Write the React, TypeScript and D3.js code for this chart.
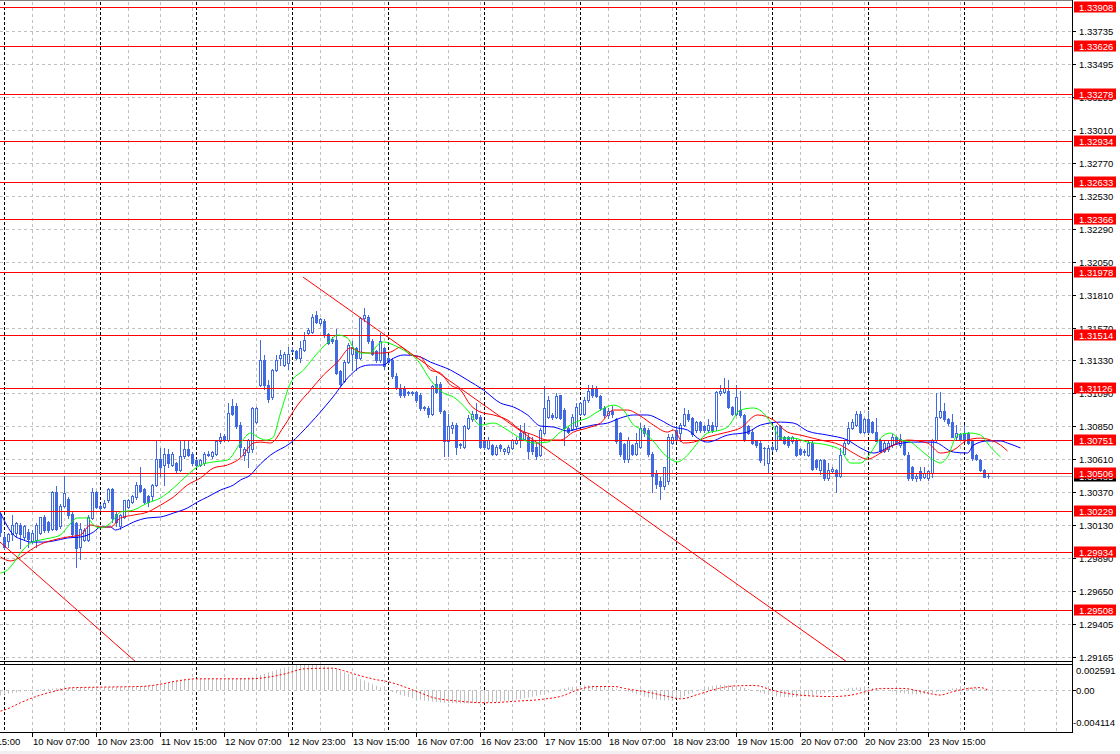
import React from "react";
import * as d3 from "d3";

// ---------- candle data (H1 bars, bar 0 = 9 Nov 23:00) ----------
const open = [
1.3021,1.3004,1.3001,1.3006,1.3007,1.3013,1.3004,1.3008,1.3001,1.3002,
1.3007,1.3019,1.3015,1.3010,1.3037,1.3012,1.3027,1.3032,1.3021,1.3014,
1.2997,1.3002,1.3002,1.3018,1.3037,1.3027,1.3026,1.3031,1.3039,1.3021,
1.3012,1.3019,1.3026,1.3030,1.3033,1.3042,1.3039,1.3034,1.3034,1.3042,
1.3061,1.3057,1.3065,1.3057,1.3058,1.3053,1.3063,1.3068,1.3065,1.3060,
1.3057,1.3058,1.3064,1.3063,1.3065,1.3074,1.3078,1.3075,1.3100,1.3100,
1.3086,1.3064,1.3066,1.3068,1.3088,1.3115,1.3133,1.3115,1.3106,1.3126,
1.3135,1.3130,1.3131,1.3140,1.3140,1.3135,1.3141,1.3153,1.3154,1.3166,
1.3160,1.3162,1.3152,1.3149,1.3148,1.3125,1.3118,1.3132,1.3138,1.3142,
1.3135,1.3164,1.3165,1.3147,1.3140,1.3133,1.3142,1.3135,1.3133,1.3122,
1.3113,1.3112,1.3110,1.3109,1.3110,1.3108,1.3099,1.3098,1.3094,1.3116,
1.3116,1.3096,1.3074,1.3084,1.3086,1.3071,1.3070,1.3084,1.3090,1.3094,
1.3092,1.3075,1.3069,1.3071,1.3065,1.3071,1.3067,1.3066,1.3069,1.3073,
1.3080,1.3076,1.3077,1.3075,1.3070,1.3064,1.3080,1.3092,1.3093,1.3092,
1.3108,1.3097,1.3084,1.3083,1.3085,1.3094,1.3094,1.3104,1.3113,1.3113,
1.3107,1.3098,1.3093,1.3096,1.3090,1.3080,1.3072,1.3061,1.3071,1.3065,
1.3070,1.3084,1.3082,1.3065,1.3051,1.3045,1.3041,1.3045,1.3073,1.3082,
1.3080,1.3086,1.3094,1.3091,1.3082,1.3088,1.3085,1.3082,1.3086,1.3085,
1.3109,1.3110,1.3111,1.3099,1.3094,1.3097,1.3093,1.3085,1.3081,1.3074,
1.3073,1.3069,1.3058,1.3070,1.3068,1.3085,1.3077,1.3077,1.3074,1.3075,
1.3068,1.3066,1.3064,1.3073,1.3060,1.3053,1.3060,1.3047,1.3052,1.3053,
1.3049,1.3065,1.3073,1.3084,1.3086,1.3094,1.3081,1.3090,1.3088,1.3081,
1.3075,1.3067,1.3068,1.3071,1.3077,1.3071,1.3074,1.3064,1.3055,1.3047,
1.3052,1.3048,1.3047,1.3051,1.3075,1.3092,1.3096,1.3090,1.3088,1.3077,
1.3079,1.3080,1.3080,1.3074,1.3064,1.3060,1.3053,1.3049];
const high = [
1.3022,1.3007,1.3007,1.3020,1.3015,1.3014,1.3013,1.3010,1.3009,1.3014,
1.3019,1.3020,1.3016,1.3038,1.3041,1.3028,1.3049,1.3033,1.3023,1.3015,
1.3014,1.3011,1.3020,1.3040,1.3038,1.3028,1.3031,1.3040,1.3040,1.3022,
1.3021,1.3031,1.3032,1.3035,1.3044,1.3055,1.3040,1.3035,1.3043,1.3074,
1.3069,1.3069,1.3068,1.3066,1.3059,1.3074,1.3074,1.3074,1.3066,1.3061,
1.3061,1.3066,1.3067,1.3067,1.3075,1.3080,1.3079,1.3102,1.3105,1.3102,
1.3088,1.3070,1.3076,1.3099,1.3099,1.3148,1.3137,1.3119,1.3127,1.3137,
1.3141,1.3139,1.3143,1.3143,1.3141,1.3147,1.3154,1.3157,1.3167,1.3169,
1.3164,1.3163,1.3153,1.3150,1.3156,1.3126,1.3133,1.3146,1.3147,1.3143,
1.3165,1.3171,1.3166,1.3149,1.3141,1.3153,1.3143,1.3137,1.3135,1.3124,
1.3116,1.3114,1.3111,1.3111,1.3111,1.3109,1.3100,1.3100,1.3115,1.3122,
1.3117,1.3097,1.3094,1.3088,1.3087,1.3073,1.3086,1.3093,1.3096,1.3102,
1.3093,1.3076,1.3077,1.3072,1.3071,1.3072,1.3069,1.3071,1.3076,1.3077,
1.3086,1.3087,1.3079,1.3077,1.3073,1.3084,1.3114,1.3107,1.3095,1.3109,
1.3108,1.3098,1.3085,1.3094,1.3102,1.3103,1.3106,1.3115,1.3115,1.3114,
1.3108,1.3100,1.3098,1.3100,1.3091,1.3081,1.3073,1.3077,1.3072,1.3080,
1.3087,1.3086,1.3084,1.3066,1.3053,1.3048,1.3055,1.3079,1.3079,1.3085,
1.3087,1.3098,1.3097,1.3092,1.3089,1.3089,1.3086,1.3090,1.3088,1.3111,
1.3115,1.3120,1.3119,1.3100,1.3115,1.3111,1.3094,1.3086,1.3082,1.3075,
1.3074,1.3070,1.3071,1.3072,1.3086,1.3086,1.3078,1.3078,1.3078,1.3076,
1.3069,1.3068,1.3074,1.3074,1.3061,1.3061,1.3061,1.3058,1.3055,1.3054,
1.3069,1.3074,1.3088,1.3090,1.3096,1.3096,1.3091,1.3096,1.3089,1.3091,
1.3076,1.3074,1.3075,1.3079,1.3078,1.3079,1.3075,1.3066,1.3056,1.3050,
1.3055,1.3055,1.3053,1.3076,1.3109,1.3110,1.3102,1.3091,1.3094,1.3086,
1.3080,1.3086,1.3081,1.3075,1.3065,1.3061,1.3054,1.3050];
const low = [
1.3005,1.2995,1.2997,1.3002,1.3005,1.2996,1.3002,1.2997,1.3000,1.2997,
1.3006,1.3008,1.3008,1.3009,1.3009,1.3011,1.3026,1.3018,1.3005,1.2982,
1.2988,1.3001,1.3001,1.3017,1.3025,1.3024,1.3025,1.3030,1.3015,1.3012,
1.3010,1.3018,1.3025,1.3029,1.3032,1.3037,1.3029,1.3027,1.3031,1.3041,
1.3049,1.3042,1.3055,1.3056,1.3051,1.3052,1.3062,1.3063,1.3057,1.3055,
1.3056,1.3057,1.3063,1.3062,1.3064,1.3073,1.3074,1.3074,1.3093,1.3084,
1.3063,1.3060,1.3055,1.3066,1.3087,1.3114,1.3112,1.3103,1.3105,1.3125,
1.3130,1.3129,1.3127,1.3139,1.3134,1.3132,1.3140,1.3152,1.3153,1.3160,
1.3159,1.3150,1.3145,1.3146,1.3123,1.3114,1.3117,1.3131,1.3126,1.3126,
1.3134,1.3162,1.3146,1.3137,1.3132,1.3132,1.3127,1.3131,1.3120,1.3112,
1.3106,1.3106,1.3108,1.3108,1.3103,1.3097,1.3097,1.3092,1.3093,1.3109,
1.3095,1.3063,1.3063,1.3080,1.3065,1.3069,1.3069,1.3083,1.3089,1.3090,
1.3069,1.3068,1.3068,1.3064,1.3064,1.3067,1.3065,1.3065,1.3068,1.3072,
1.3070,1.3075,1.3062,1.3065,1.3061,1.3063,1.3079,1.3091,1.3090,1.3091,
1.3090,1.3071,1.3080,1.3082,1.3084,1.3093,1.3093,1.3103,1.3106,1.3106,
1.3097,1.3092,1.3091,1.3092,1.3073,1.3063,1.3059,1.3059,1.3064,1.3064,
1.3069,1.3078,1.3063,1.3037,1.3040,1.3032,1.3039,1.3043,1.3072,1.3074,
1.3074,1.3085,1.3089,1.3078,1.3081,1.3081,1.3081,1.3081,1.3081,1.3082,
1.3108,1.3109,1.3098,1.3093,1.3093,1.3092,1.3074,1.3079,1.3072,1.3070,
1.3059,1.3057,1.3051,1.3067,1.3067,1.3075,1.3072,1.3070,1.3073,1.3063,
1.3064,1.3064,1.3063,1.3053,1.3054,1.3050,1.3046,1.3046,1.3051,1.3037,
1.3048,1.3064,1.3072,1.3083,1.3085,1.3080,1.3080,1.3080,1.3080,1.3074,
1.3066,1.3066,1.3067,1.3070,1.3072,1.3070,1.3064,1.3046,1.3046,1.3045,
1.3046,1.3047,1.3046,1.3048,1.3074,1.3091,1.3089,1.3086,1.3077,1.3076,
1.3075,1.3075,1.3072,1.3060,1.3060,1.3052,1.3048,1.3047];
const close = [
1.3008,1.2997,1.3006,1.3013,1.3014,1.3006,1.3012,1.3003,1.3007,1.3013,
1.3019,1.3009,1.3009,1.3037,1.3010,1.3027,1.3036,1.3020,1.3006,1.2996,
1.3010,1.3009,1.3019,1.3037,1.3026,1.3025,1.3029,1.3039,1.3018,1.3015,
1.3020,1.3031,1.3031,1.3034,1.3042,1.3038,1.3030,1.3030,1.3042,1.3061,
1.3055,1.3065,1.3058,1.3065,1.3053,1.3063,1.3068,1.3064,1.3058,1.3057,
1.3060,1.3065,1.3065,1.3066,1.3074,1.3077,1.3075,1.3095,1.3094,1.3085,
1.3070,1.3068,1.3075,1.3098,1.3098,1.3133,1.3115,1.3105,1.3126,1.3133,
1.3137,1.3138,1.3138,1.3141,1.3135,1.3142,1.3148,1.3155,1.3165,1.3161,
1.3163,1.3152,1.3146,1.3147,1.3124,1.3116,1.3132,1.3144,1.3143,1.3135,
1.3164,1.3166,1.3147,1.3138,1.3133,1.3147,1.3129,1.3132,1.3122,1.3113,
1.3108,1.3108,1.3109,1.3110,1.3104,1.3098,1.3098,1.3094,1.3114,1.3110,
1.3096,1.3074,1.3085,1.3086,1.3070,1.3072,1.3085,1.3091,1.3094,1.3091,
1.3070,1.3070,1.3075,1.3065,1.3070,1.3069,1.3068,1.3070,1.3075,1.3075,
1.3075,1.3081,1.3067,1.3067,1.3063,1.3082,1.3098,1.3104,1.3092,1.3107,
1.3091,1.3084,1.3081,1.3092,1.3099,1.3102,1.3104,1.3111,1.3108,1.3107,
1.3098,1.3093,1.3096,1.3094,1.3074,1.3065,1.3061,1.3075,1.3065,1.3073,
1.3084,1.3080,1.3065,1.3049,1.3043,1.3041,1.3055,1.3077,1.3077,1.3076,
1.3086,1.3094,1.3090,1.3079,1.3088,1.3082,1.3082,1.3086,1.3082,1.3110,
1.3111,1.3113,1.3099,1.3094,1.3106,1.3093,1.3075,1.3080,1.3073,1.3071,
1.3060,1.3069,1.3069,1.3068,1.3085,1.3076,1.3073,1.3071,1.3077,1.3064,
1.3065,1.3067,1.3073,1.3054,1.3055,1.3060,1.3047,1.3053,1.3054,1.3049,
1.3064,1.3073,1.3084,1.3088,1.3094,1.3081,1.3090,1.3081,1.3081,1.3074,
1.3067,1.3073,1.3073,1.3077,1.3073,1.3076,1.3065,1.3047,1.3047,1.3049,
1.3047,1.3051,1.3052,1.3075,1.3092,1.3096,1.3090,1.3087,1.3077,1.3080,
1.3076,1.3076,1.3073,1.3062,1.3061,1.3053,1.3048,1.30485];

// ---------- Alligator (bar, price) ----------
const jaw = [[0,1.30216],[3.25,1.30056],[5.75,1.30019],[7.5,1.30004],[10.75,1.30004],[13.25,1.30012],[16.75,1.30034],[20,1.30041],[23.25,1.30077],[25,1.30114],[27.5,1.30114],[28.75,1.30092],[30.75,1.30114],[33.25,1.3015],[36.75,1.3018],[40,1.30187],[43.25,1.30216],[46.75,1.30253],[49.25,1.30297],[51.75,1.30333],[55,1.30384],[58.25,1.30421],[60,1.30457],[62.5,1.30494],[64.25,1.30552],[67.5,1.30639],[72.5,1.30727],[77.5,1.30873],[82.5,1.31041],[87.5,1.31224],[90,1.31282],[92.5,1.31297],[95.75,1.31297],[97.5,1.31333],[100.75,1.3137],[104.25,1.31362],[107.5,1.31318],[112.5,1.3126],[116.75,1.31187],[120.75,1.31114],[125,1.31019],[128.25,1.3099],[131.75,1.30932],[135,1.30851],[138.25,1.30844],[141.75,1.30815],[145,1.30837],[148.25,1.30859],[151.75,1.30873],[155,1.3091],[158.25,1.30932],[161.75,1.30932],[165,1.30895],[168.25,1.30844],[171.75,1.30822],[175,1.30749],[176.75,1.30734],[181.75,1.30785],[186.75,1.30807],[190,1.30858],[195,1.3088],[198.25,1.30873],[201.75,1.30815],[206.75,1.30785],[211.75,1.30749],[215,1.30691],[218.25,1.30654],[223.25,1.30712],[228.25,1.30734],[233.25,1.30734],[238.25,1.30661],[241.75,1.30654],[243.25,1.30712],[246.75,1.30742],[250,1.30742],[251.75,1.30727],[255,1.30691]];
const teeth = [[0,1.29895],[2.5,1.29866],[5,1.29895],[7.5,1.29946],[10.75,1.29997],[13.25,1.30019],[16.75,1.30041],[20,1.30056],[22.5,1.30129],[25,1.30114],[27.5,1.30114],[30,1.3018],[33.25,1.30201],[36.75,1.30223],[40,1.30274],[43.25,1.30333],[46.75,1.30421],[50,1.30472],[53.25,1.30545],[56.75,1.30567],[60,1.30618],[63.25,1.30727],[65,1.30734],[67.5,1.30727],[70.75,1.30844],[74.25,1.31004],[77.5,1.31114],[80.75,1.31224],[84.25,1.31318],[87.5,1.31421],[90,1.31391],[92.5,1.31384],[95,1.31384],[97.5,1.31391],[100,1.31428],[102.5,1.3137],[105,1.31355],[107.5,1.3126],[110,1.31238],[112.5,1.3115],[115,1.31114],[117.5,1.31004],[120,1.30953],[123.25,1.30932],[126.75,1.30895],[130,1.30822],[133.25,1.30785],[136.75,1.30749],[140,1.30749],[143.25,1.30807],[146.75,1.30837],[150,1.30873],[153.25,1.30968],[156.75,1.30968],[160,1.30924],[163.25,1.30858],[166.75,1.30807],[168.25,1.30822],[170.75,1.30727],[173.25,1.30734],[176.75,1.30771],[181.75,1.30807],[185,1.30837],[189.25,1.30932],[193.25,1.30895],[196.75,1.30807],[200,1.30785],[205,1.30749],[210,1.30712],[213.25,1.30654],[216.75,1.3061],[220,1.30654],[223.25,1.30712],[226.75,1.30749],[231.75,1.30727],[235,1.30654],[238.25,1.30676],[241.75,1.30749],[245,1.30763],[247.5,1.30749],[250,1.30712],[251.75,1.30669]];
const lips = [[0,1.29778],[1.75,1.298],[3.25,1.29851],[5,1.29924],[7.5,1.29997],[10,1.30019],[12.5,1.30034],[15,1.30056],[16.75,1.30114],[19.25,1.3018],[21.75,1.3018],[23.25,1.30129],[25,1.30107],[27.5,1.30143],[30,1.30223],[33.25,1.30238],[36.75,1.30289],[40,1.30326],[43.25,1.30399],[46.75,1.30494],[50,1.30567],[53.25,1.30589],[56.75,1.30603],[60,1.30727],[62.5,1.308],[64.25,1.30771],[66.25,1.30749],[68,1.30763],[70,1.30946],[72.5,1.31165],[75.75,1.3126],[79.25,1.31384],[82.5,1.31479],[84.25,1.31516],[86.75,1.31494],[88.25,1.31421],[90,1.31384],[92.5,1.31384],[94.25,1.31443],[95.75,1.31465],[98.25,1.31443],[100.75,1.31406],[104.25,1.31333],[107.5,1.31187],[110.75,1.31092],[113.25,1.31063],[116.75,1.30968],[120,1.30858],[123.25,1.30873],[126.75,1.30822],[130,1.30763],[133.25,1.30727],[136.75,1.30734],[140,1.30807],[143.25,1.30873],[146.75,1.3091],[150,1.30968],[153.25,1.31004],[155.75,1.30968],[158.25,1.30858],[160,1.30829],[162.5,1.30763],[166.75,1.30625],[169.25,1.30589],[171.75,1.30639],[174.25,1.30727],[176.75,1.308],[180,1.30822],[181.75,1.30844],[185,1.30968],[188.25,1.30983],[190.75,1.30946],[193.25,1.30844],[195,1.30763],[198.25,1.30763],[201.75,1.30734],[206.75,1.30712],[210,1.30676],[212.5,1.30581],[215,1.30581],[217.5,1.30654],[220,1.30763],[222.5,1.308],[225,1.30749],[227.5,1.30734],[230,1.30676],[233.25,1.30603],[235,1.30581],[236.75,1.30625],[239.25,1.30785],[242.5,1.308],[245,1.30785],[247.5,1.30698],[250,1.30625]];

// ---------- trend lines (bar, price) ----------
const trendA = [[75.75, 1.31939], [145, 1.30508]];
const trendB = [[0, 1.30004], [10.75, 1.29727]];

// ---------- horizontal levels, ticks ----------
const levels = [1.33908,1.33626,1.33278,1.32934,1.32633,1.32366,1.31978,1.31514,1.31126,1.30751,1.30506,1.30229,1.29934,1.29508];
const priceTicks = [1.33735,1.33495,1.33255,1.3301,1.3277,1.3253,1.3229,1.3205,1.3181,1.3157,1.3133,1.3109,1.3085,1.3061,1.3037,1.3013,1.2989,1.2965,1.29405,1.29165];
const priceTickLabels = ["1.33735","1.33495","1.33255","1.33010","1.32770","1.32530","1.32290","1.32050","1.31810","1.31570","1.31330","1.31090","1.30850","1.30610","1.30370","1.30130","1.29890","1.29650","1.29405","1.29165"];
const bidPrice = 1.30485;

const timeLabelBars = [-8,8,24,40,56,72,88,104,120,136,152,168,184,200,216,232];
const timeLabels = ["9 Nov 15:00","10 Nov 07:00","10 Nov 23:00","11 Nov 15:00","12 Nov 07:00","12 Nov 23:00","13 Nov 15:00","16 Nov 07:00","16 Nov 23:00","17 Nov 15:00","18 Nov 07:00","18 Nov 23:00","19 Nov 15:00","20 Nov 07:00","20 Nov 23:00","23 Nov 15:00"];
const daySeparatorBars = [1,25,49,73,97,121,145,169,193,217,241];

// ---------- MACD (main histogram in 1e-6, signal as read points) ----------
const macdMainE6 = [
-500,-420,-350,-280,-220,-160,-100,-50,0,40,
80,110,140,170,200,230,250,270,290,300,
310,310,310,320,320,330,330,330,340,340,
350,350,360,370,380,400,430,470,520,580,
650,720,800,860,920,970,1010,1050,1080,1100,
1110,1120,1120,1110,1100,1100,1110,1130,1150,1170,
1190,1220,1260,1320,1400,1500,1620,1750,1880,2000,
2120,2230,2330,2420,2490,2540,2570,2591,2570,2530,
2470,2400,2310,2200,2070,1930,1780,1620,1450,1280,
1110,940,770,600,440,280,130,-20,-170,-310,
-440,-560,-670,-770,-860,-940,-1010,-1070,-1120,-1160,
-1200,-1230,-1250,-1270,-1280,-1290,-1290,-1290,-1280,-1270,
-1260,-1240,-1220,-1190,-1160,-1120,-1080,-1030,-980,-920,
-860,-790,-720,-640,-550,-450,-350,-240,-130,-20,
90,190,280,350,410,450,470,480,470,450,
420,370,310,240,160,70,-30,-140,-260,-380,
-500,-620,-730,-830,-910,-970,-1000,-990,-940,-850,
-730,-580,-410,-240,-70,90,230,350,440,500,
530,540,520,480,420,340,240,130,10,-110,
-230,-340,-440,-530,-600,-650,-680,-690,-690,-670,
-640,-600,-550,-490,-420,-340,-260,-170,-80,10,
90,160,220,260,280,290,280,260,220,170,
110,40,-30,-110,-190,-260,-320,-370,-400,-410,
-400,-370,-320,-250,-170,-80,10,100,180,240,
280,300,290,260,210,140,60,-20];
const macdSignal = [[0,-0.00205],[1,-0.00194],[5,-0.00123],[9,-0.0006],[13.4,-0.0001],[17.9,0.00025],[26.8,0.00032],[35.7,0.00039],[40,0.0006],[44.6,0.00095],[49,0.00113],[62.5,0.00113],[67,0.0013],[71.4,0.00165],[75.9,0.00211],[83,0.00218],[85.7,0.00194],[89.3,0.00151],[93.75,0.00106],[97.3,0.00081],[100.9,0.00035],[104.5,-0.00018],[108,-0.0007],[114.3,-0.00106],[121.4,-0.00123],[129.5,-0.00106],[135.7,-0.00088],[140.5,-0.00055],[144,0],[148.7,0.00037],[153.5,0.00037],[156,0.00018],[161.7,-0.00018],[167,-0.00062],[170,-0.00084],[174.7,-0.00037],[179.5,0.00018],[184,0.00044],[188.7,0.00047],[193,0],[199.7,-0.00047],[208,-0.00062],[212.7,-0.00047],[216.5,-0.00011],[220,0.00018],[225.7,0.00018],[230,-0.00011],[235,-0.00047],[237.7,-0.00018],[242,0.00018],[245,0.00026],[247,0]];
const macdLabels = ["0.002591", "0.00", "-0.004114"];
const macdMax = 0.002591, macdMin = -0.004114;

const FONT = "'Liberation Sans', Arial, sans-serif";
const CANDLE = "#4169E1";

export default function App() {
  const plotR = 1072;
  const xs = d3.scaleLinear().domain([0, 268]).range([0, plotR]);
  const yp = d3.scaleLinear().domain([1.291356, 1.339473]).range([661, 2]);
  const ym = d3.scaleLinear().domain([macdMin, macdMax]).range([732, 664]);
  const cx = (i: number) => Math.round(xs(i)) + 0.5;
  const hy = (v: number) => Math.round(yp(v)) + 0.5;

  const lineGen = (s: d3.ScaleLinear<number, number>) =>
    d3.line<number[]>().x((d) => xs(d[0]) + 0.5).y((d) => s(d[1])).curve(d3.curveMonotoneX);

  const ext = (pts: number[][], x0: number, x1: number) => {
    const [a, b] = pts;
    const k = (b[1] - a[1]) / (b[0] - a[0]);
    return [[x0, a[1] + k * (x0 - a[0])], [x1, a[1] + k * (x1 - a[0])]];
  };
  const tA = ext(trendA, trendA[0][0], 268);
  const tB = ext(trendB, -5, 60);

  const gridBars = d3.range(8, 268, 8);
  const n = open.length;

  return (
    <div style={{ position: "absolute", left: 0, top: 0, width: 1120, height: 754, background: "#fff" }}>
      <svg width={1120} height={754} style={{ display: "block" }} fontFamily={FONT}>
        <defs>
          <clipPath id="mainClip"><rect x={0} y={2} width={plotR} height={659} /></clipPath>
          <clipPath id="subClip"><rect x={0} y={665} width={plotR} height={67} /></clipPath>
        </defs>
        <rect x={0} y={0} width={1120} height={754} fill="#fff" />
        <rect x={0} y={751} width={1120} height={3} fill="#f0f0f0" />

        {/* horizontal grid */}
        {priceTicks.map((v, i) => (
          <line key={"hg" + i} x1={0} x2={plotR} y1={hy(v)} y2={hy(v)} stroke="#c0c0c0" strokeDasharray="3,3" />
        ))}
        <line x1={0} x2={plotR} y1={Math.round(ym(0)) + 0.5} y2={Math.round(ym(0)) + 0.5} stroke="#c0c0c0" strokeDasharray="3,3" />
        {/* vertical grid */}
        {gridBars.map((b) => (
          <line key={"vg" + b} x1={cx(b)} x2={cx(b)} y1={2} y2={732} stroke="#c0c0c0" strokeDasharray="3,3" />
        ))}
        {daySeparatorBars.map((b) => (
          <line key={"ds" + b} x1={cx(b)} x2={cx(b)} y1={2} y2={732} stroke="#000" strokeDasharray="3,2" />
        ))}

        {/* bid line */}
        <line x1={0} x2={plotR} y1={hy(bidPrice)} y2={hy(bidPrice)} stroke="#c0c0c0" />

        <g clipPath="url(#mainClip)">
          {/* candles */}
          {d3.range(n).map((i) => {
            const o = open[i], c = close[i];
            const up = c >= o;
            const yt = Math.round(yp(Math.max(o, c)));
            const yb = Math.round(yp(Math.min(o, c)));
            const x = cx(i);
            return (
              <g key={"c" + i}>
                <line x1={x} x2={x} y1={Math.round(yp(high[i]))} y2={Math.round(yp(low[i])) + 1} stroke={CANDLE} />
                {yb - yt < 1 ? (
                  <line x1={x - 1.5} x2={x + 1.5} y1={yt + 0.5} y2={yt + 0.5} stroke={CANDLE} />
                ) : (
                  <rect x={x - 1} y={yt + 0.5} width={2} height={yb - yt} fill={up ? "#fff" : CANDLE} stroke={CANDLE} />
                )}
              </g>
            );
          })}

          {/* levels */}
          {levels.map((v, i) => (
            <line key={"lv" + i} x1={0} x2={plotR} y1={hy(v)} y2={hy(v)} stroke="#ff0000" />
          ))}

          {/* alligator */}
          <path d={lineGen(yp)(jaw) || ""} fill="none" stroke="#0000ff" strokeWidth={1} />
          <path d={lineGen(yp)(teeth) || ""} fill="none" stroke="#ff0000" strokeWidth={1} />
          <path d={lineGen(yp)(lips) || ""} fill="none" stroke="#00ff00" strokeWidth={1} />

          {/* trend lines */}
          <line x1={xs(tA[0][0])} y1={yp(tA[0][1])} x2={xs(tA[1][0])} y2={yp(tA[1][1])} stroke="#ff0000" />
          <line x1={xs(tB[0][0])} y1={yp(tB[0][1])} x2={xs(tB[1][0])} y2={yp(tB[1][1])} stroke="#ff0000" />
        </g>

        {/* MACD */}
        <g clipPath="url(#subClip)">
          {macdMainE6.map((v, i) => (
            <line key={"m" + i} x1={cx(i)} x2={cx(i)} y1={Math.round(ym(0))} y2={ym(v * 1e-6)} stroke="#c0c0c0" />
          ))}
          <path d={lineGen(ym)(macdSignal) || ""} fill="none" stroke="#ff0000" strokeDasharray="2,2" />
        </g>

        {/* frames */}
        <line x1={0} x2={plotR} y1={0.5} y2={0.5} stroke="#808080" />
        <line x1={0} x2={plotR} y1={661.5} y2={661.5} stroke="#000" />
        <line x1={0} x2={plotR} y1={664.5} y2={664.5} stroke="#000" />
        <line x1={0} x2={plotR} y1={732.5} y2={732.5} stroke="#000" />
        <line x1={plotR + 0.5} x2={plotR + 0.5} y1={0} y2={733} stroke="#000" />

        {/* price axis */}
        {priceTicks.map((v, i) => (
          <g key={"pt" + i}>
            <line x1={plotR} x2={plotR + 4} y1={hy(v)} y2={hy(v)} stroke="#000" />
            <text x={1079} y={hy(v)} dy="0.35em" fontSize={9.5} fill="#000">{priceTickLabels[i]}</text>
          </g>
        ))}
        <g>
          <rect x={1074} y={hy(bidPrice) - 6} width={42} height={11} fill="#000" />
          <text x={1079} y={hy(bidPrice)} dy="0.35em" fontSize={9.5} fill="#fff">{bidPrice.toFixed(5)}</text>
        </g>
        {levels.map((v, i) => {
          const yc = Math.max(hy(v), 7);
          return (
            <g key={"ll" + i}>
              <rect x={1074} y={yc - 6} width={42} height={11} fill="#ff0000" />
              <text x={1079} y={yc} dy="0.35em" fontSize={9.5} fill="#fff">{v.toFixed(5)}</text>
            </g>
          );
        })}

        {/* MACD axis labels */}
        <text x={1076} y={671} dy="0.35em" fontSize={9.5} fill="#000">{macdLabels[0]}</text>
        <text x={1076} y={ym(0)} dy="0.35em" fontSize={9.5} fill="#000">{macdLabels[1]}</text>
        <text x={1073} y={723} dy="0.35em" fontSize={9.5} fill="#000">{macdLabels[2]}</text>
        <line x1={plotR} x2={plotR + 4} y1={Math.round(ym(0)) + 0.5} y2={Math.round(ym(0)) + 0.5} stroke="#000" />

        {/* time axis */}
        {timeLabelBars.map((b, i) => (
          <g key={"tl" + i}>
            <line x1={cx(b)} x2={cx(b)} y1={732} y2={737} stroke="#000" />
            <text x={xs(b) + 1} y={745} fontSize={9.5} fill="#000">{timeLabels[i]}</text>
          </g>
        ))}
      </svg>
    </div>
  );
}
